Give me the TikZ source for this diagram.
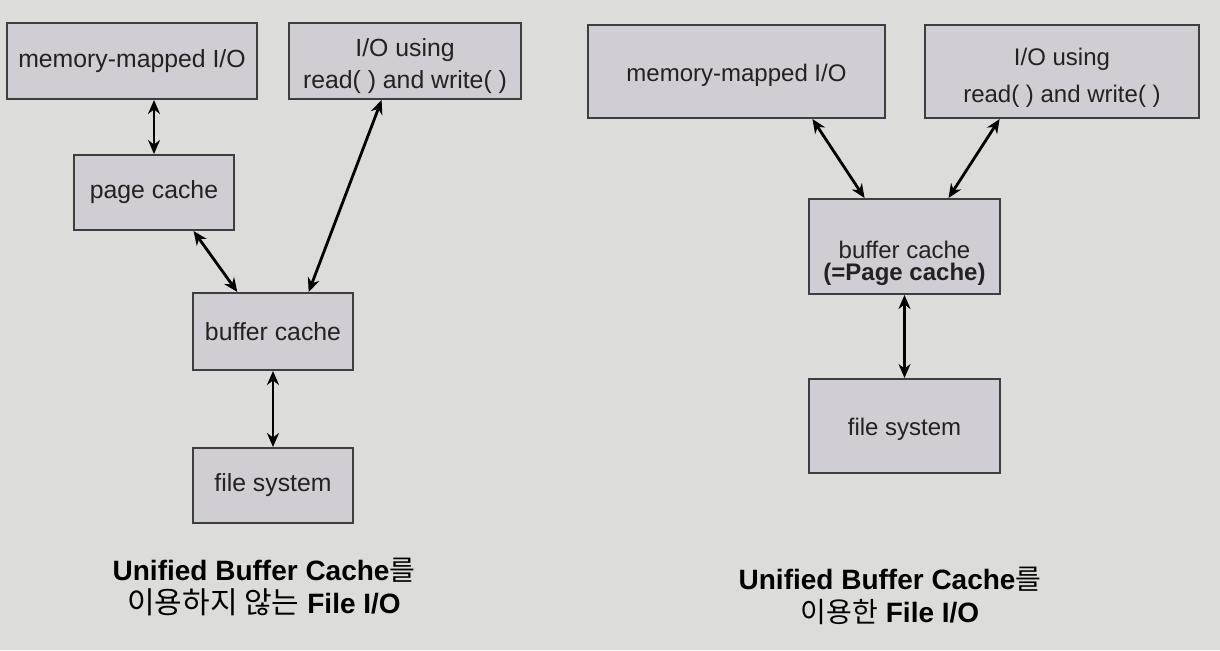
\documentclass[tikz,border=0pt]{standalone}
\usepackage{fontspec}
\setmainfont{Liberation Sans}
\newfontfamily\kr{Noto Sans CJK KR}
\usetikzlibrary{arrows.meta,calc}
\definecolor{bg}{HTML}{DCDCDA}
\definecolor{boxfill}{HTML}{D0CDD4}
\definecolor{boxline}{HTML}{3E3E3E}
\definecolor{txt}{HTML}{222222}
\begin{document}
\begin{tikzpicture}[x=0.5pt,y=-0.5pt,
  box/.style={draw=boxline,fill=boxfill,line width=1pt,inner sep=0pt,
    align=center,text=txt},
  lbl/.style={align=center,text=txt,inner sep=0pt},
  lf/.style={font=\fontsize{12.4}{16}\selectfont},
  rf/.style={font=\fontsize{12}{18.5}\selectfont},
  biarrow/.style={line width=1.4pt,draw=black,
    {Stealth[length=7pt,width=6pt]}-{Stealth[length=7pt,width=6pt]}},
  caption/.style={align=center,text=black,font=\fontsize{14}{16.5}\selectfont}]
\fill[bg] (0,0) rectangle (1220,650);
\useasboundingbox (0,0) rectangle (1220,650);
% ---- left diagram
\node[box,lf,minimum width=125pt,minimum height=38pt] (lmm) at (132,61) {memory-mapped I/O};
\node[box,minimum width=116pt,minimum height=38pt] (lio) at (405,61) {};
\node[lbl,lf] (liot) at (405,66) {I/O using\\read( ) and write( )};
\node[box,lf,minimum width=80pt,minimum height=37.5pt] (lpc) at (154,192.5) {page cache};
\node[box,lf,minimum width=80pt,minimum height=38.5pt] (lbc) at (273,331.5) {buffer cache};
\node[box,lf,minimum width=80pt,minimum height=37.5pt] (lfs) at (273,485.5) {file system};
\draw[biarrow] (lpc.north |- lmm.south) -- (lpc.north);
\draw[biarrow] ($(lpc.south west)!0.744!(lpc.south east)$) -- ($(lbc.north west)!0.28!(lbc.north east)$);
\draw[biarrow] ($(lio.south west)!0.40!(lio.south east)$) -- ($(lbc.north west)!0.72!(lbc.north east)$);
\draw[biarrow] (lbc.south) -- (lfs.north);
\node[caption] (lcap) at (264,587) {\textbf{Unified Buffer Cache}{\kr 를}\\{\kr\fontsize{15}{16.5}\selectfont 이용하지 않는} \textbf{File I/O}};
% ---- right diagram
\node[box,minimum width=148.5pt,minimum height=46.5pt] (rmm) at (736.5,71.5) {};
\node[lbl,rf] (rmmt) at (736.5,75) {memory-mapped I/O};
\node[box,minimum width=137pt,minimum height=46.5pt] (rio) at (1062,71.5) {};
\node[lbl,rf] (riot) at (1062,77.5) {I/O using\\read( ) and write( )};
\node[box,minimum width=95.5pt,minimum height=47.5pt] (rbc) at (904.5,246.5) {};
\node[lbl,font=\fontsize{12}{11}\selectfont] (rbct) at (904.5,263) {buffer cache\\\textbf{(=Page cache)}};
\node[box,rf,minimum width=95.5pt,minimum height=47pt] (rfs) at (904.5,426) {};
\node[lbl,rf] (rfst) at (904.5,429) {file system};
\draw[biarrow] ($(rmm.south west)!0.754!(rmm.south east)$) -- ($(rbc.north west)!0.293!(rbc.north east)$);
\draw[biarrow] ($(rio.south west)!0.274!(rio.south east)$) -- ($(rbc.north west)!0.728!(rbc.north east)$);
\draw[biarrow] (rbc.south) -- (rfs.north);
\node[caption] (rcap) at (890,596) {\textbf{Unified Buffer Cache}{\kr 를}\\{\kr 이용한} \textbf{File I/O}};
\end{tikzpicture}
\end{document}
